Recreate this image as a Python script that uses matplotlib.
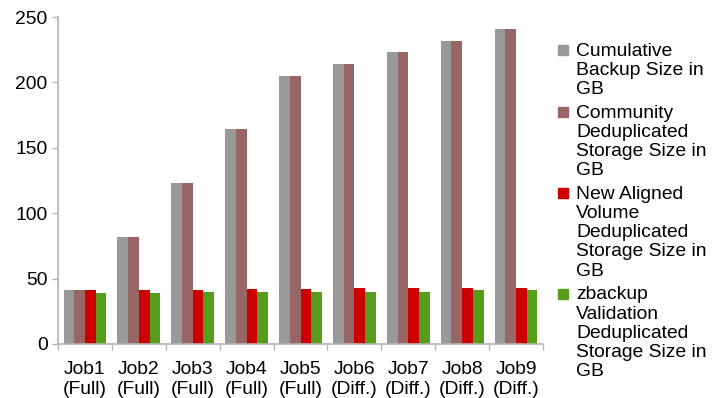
import numpy as np
import matplotlib.pyplot as plt
from matplotlib.patches import Rectangle

plt.rcParams['font.family'] = ['Liberation Sans', 'DejaVu Sans']

jobs = ['Job1\n(Full)', 'Job2\n(Full)', 'Job3\n(Full)', 'Job4\n(Full)', 'Job5\n(Full)',
        'Job6\n(Diff.)', 'Job7\n(Diff.)', 'Job8\n(Diff.)', 'Job9\n(Diff.)']
cumulative = [41, 82, 123, 164, 205, 214, 223, 232, 241]
community = [41, 82, 123, 164, 205, 214, 223, 232, 241]
aligned = [41, 41, 41, 42, 42, 43, 43, 43, 43]
zbackup = [39, 39, 40, 40, 40, 40, 40, 41, 41]

series = [
    ('Cumulative\nBackup Size in\nGB', cumulative, '#999999'),
    ('Community\nDeduplicated\nStorage Size in\nGB', community, '#996666'),
    ('New Aligned\nVolume\nDeduplicated\nStorage Size in\nGB', aligned, '#cc0000'),
    ('zbackup\nValidation\nDeduplicated\nStorage Size in\nGB', zbackup, '#579d1c'),
]

W, H = 712, 398
fs = 13.9
fig = plt.figure(figsize=(W / 100, H / 100), dpi=100)
ax = fig.add_axes([58 / W, 54 / H, 485 / W, 327 / H])

x = np.arange(len(jobs))
w = 0.198
for i, (label, vals, color) in enumerate(series):
    ax.bar(x + (i - 1.5) * w, vals, w, color=color)

ax.set_xlim(-0.5, len(jobs) - 0.5)
ax.set_ylim(0, 250)
ax.set_yticks([0, 50, 100, 150, 200, 250])

# boundary ticks between groups, labels centred on groups
ax.set_xticks(np.arange(len(jobs) + 1) - 0.5)
ax.set_xticklabels([])
ax.set_xticks(x, minor=True)
ax.set_xticklabels(jobs, minor=True, linespacing=1.22)
ax.tick_params(axis='x', which='minor', length=0, pad=12, labelsize=fs)
ax.tick_params(axis='x', which='major', length=4.5, color='#b3b3b3', width=1)
ax.tick_params(axis='y', length=4.5, color='#b3b3b3', width=1, labelsize=fs, pad=3)

for s in ['top', 'right']:
    ax.spines[s].set_visible(False)
for s in ['left', 'bottom']:
    ax.spines[s].set_color('#b3b3b3')
    ax.spines[s].set_linewidth(1.2)

# legend: square marker beside first line of each wrapped label
line_h = 19.2
gap = 4.5
y = 44
for label, vals, color in series:
    fig.patches.append(Rectangle((558 / W, 1 - (y + 11) / H), 10 / W, 10 / H,
                                 transform=fig.transFigure, color=color))
    for k, part in enumerate(label.split('\n')):
        fig.text(576 / W, 1 - (y + 7 + k * line_h) / H, part, fontsize=fs,
                 va='center', ha='left')
    y += (label.count('\n') + 1) * line_h + gap

fig.savefig('out.png', dpi=100)
